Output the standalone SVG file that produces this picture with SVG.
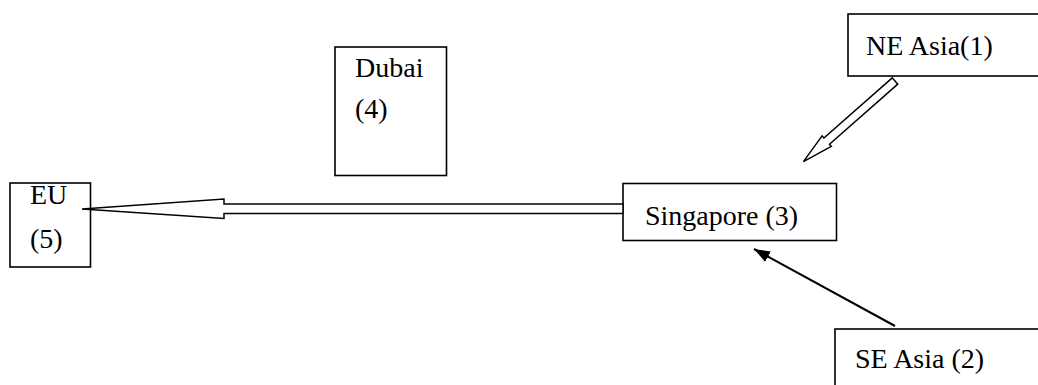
<svg xmlns="http://www.w3.org/2000/svg" width="1038" height="385" viewBox="0 0 1038 385">
<style>
.box{fill:#fff;stroke:#000;stroke-width:1.6}
.lbl{font-family:"Liberation Serif","Times New Roman",serif;font-size:28px;fill:#000}
.hollow{fill:#fff;stroke:#000;stroke-width:1.5;stroke-linejoin:miter}
.line{fill:none;stroke:#000;stroke-width:2}
</style>
<defs>
<marker id="ah" markerUnits="userSpaceOnUse" markerWidth="18" markerHeight="12" refX="16" refY="6" orient="auto">
<path d="M0,0 L16,6 L0,12 Z" fill="#000"/>
</marker>
</defs>
<rect width="1038" height="385" fill="#fff"/>
<g id="n5">
<rect class="box" x="10" y="183" width="80.5" height="84"/>
<text class="lbl" x="30" y="204">EU</text>
<text class="lbl" x="30" y="248">(5)</text>
</g>
<g id="n4">
<rect class="box" x="335" y="47" width="111.5" height="128.5"/>
<text class="lbl" x="355" y="77">Dubai</text>
<text class="lbl" x="355" y="118">(4)</text>
</g>
<g id="n3">
<rect class="box" x="623" y="183.5" width="213.5" height="57"/>
<text class="lbl" x="645" y="225">Singapore (3)</text>
</g>
<g id="n1">
<rect class="box" x="848" y="14" width="200" height="62"/>
<text class="lbl" x="866" y="55">NE Asia(1)</text>
</g>
<g id="n2">
<rect class="box" x="835" y="329" width="210" height="70"/>
<text class="lbl" x="855" y="368">SE Asia (2)</text>
</g>
<g id="connectors">
<polygon class="hollow" points="82,209 224,199 224,204 623,204 623,213.5 224,213.5 224,218.5"/>
<g transform="translate(895,81) rotate(138.65)">
<polygon class="hollow" points="0,-4.2 91,-4.2 91,-7 122,0 91,7 91,4.2 0,4.2"/>
</g>
<line class="line" x1="895" y1="326" x2="754" y2="249" marker-end="url(#ah)"/>
</g>
</svg>
